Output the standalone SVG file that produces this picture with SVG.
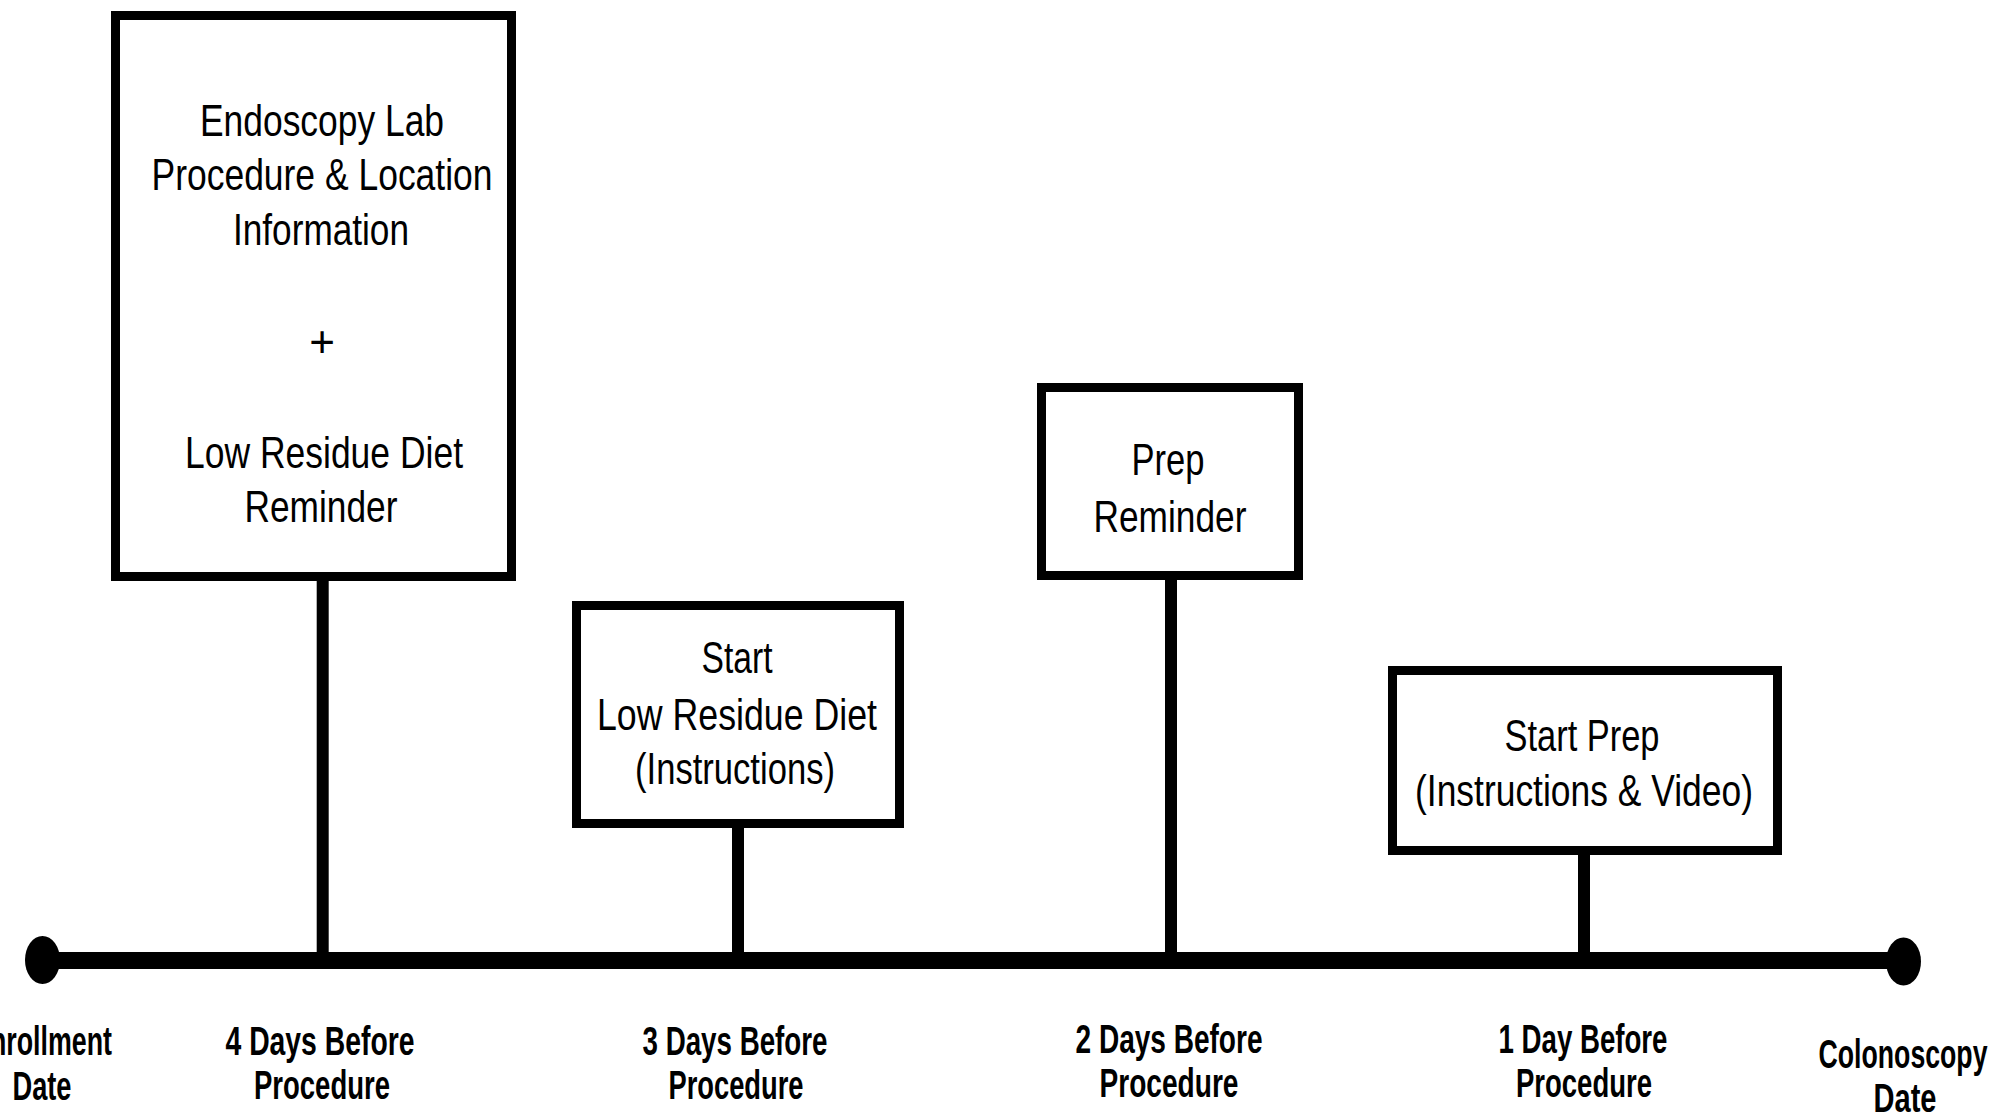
<svg xmlns="http://www.w3.org/2000/svg" width="1992" height="1116" viewBox="0 0 1992 1116">
<style>
.box{fill:#fff;stroke:#000;stroke-width:9}
.bt{font-family:"Liberation Sans",Arial,sans-serif;font-size:44px;fill:#000;text-anchor:middle}
.lb{font-family:"Liberation Sans",Arial,sans-serif;font-size:40px;font-weight:bold;fill:#000;text-anchor:middle}
.stem{stroke:#000;stroke-width:12;fill:none}
</style>
<rect width="1992" height="1116" fill="#fff"/>
<g id="connectors">
<line class="stem" x1="322.7" y1="578" x2="322.7" y2="960"/>
<line class="stem" x1="738" y1="826" x2="738" y2="960"/>
<line class="stem" x1="1171" y1="578" x2="1171" y2="960"/>
<line class="stem" x1="1584" y1="853" x2="1584" y2="960"/>
</g>
<g id="timeline">
<line x1="42" y1="960.5" x2="1903" y2="960.5" stroke="#000" stroke-width="17"/>
<ellipse cx="42.5" cy="960" rx="17.5" ry="24" fill="#000"/>
<ellipse cx="1903.5" cy="961.5" rx="17.5" ry="24" fill="#000"/>
</g>
<g id="node-endoscopy">
<rect class="box" x="115.5" y="15.5" width="396" height="561"/>
<text class="bt" x="322" y="136" textLength="244" lengthAdjust="spacingAndGlyphs">Endoscopy Lab</text>
<text class="bt" x="322" y="190" textLength="341" lengthAdjust="spacingAndGlyphs">Procedure &amp; Location</text>
<text class="bt" x="321" y="245" textLength="176" lengthAdjust="spacingAndGlyphs">Information</text>
<text class="bt" x="322" y="357">+</text>
<text class="bt" x="324" y="468" textLength="278" lengthAdjust="spacingAndGlyphs">Low Residue Diet</text>
<text class="bt" x="321" y="522" textLength="153" lengthAdjust="spacingAndGlyphs">Reminder</text>
</g>
<g id="node-start-diet">
<rect class="box" x="576.5" y="605.5" width="323" height="218"/>
<text class="bt" x="737" y="673" textLength="71" lengthAdjust="spacingAndGlyphs">Start</text>
<text class="bt" x="737" y="730" textLength="280" lengthAdjust="spacingAndGlyphs">Low Residue Diet</text>
<text class="bt" x="735" y="784" textLength="200" lengthAdjust="spacingAndGlyphs">(Instructions)</text>
</g>
<g id="node-prep-reminder">
<rect class="box" x="1041.5" y="387.5" width="257" height="188"/>
<text class="bt" x="1168" y="475" textLength="73" lengthAdjust="spacingAndGlyphs">Prep</text>
<text class="bt" x="1170" y="532" textLength="153" lengthAdjust="spacingAndGlyphs">Reminder</text>
</g>
<g id="node-start-prep">
<rect class="box" x="1392.5" y="670.5" width="385" height="180"/>
<text class="bt" x="1582" y="751" textLength="155" lengthAdjust="spacingAndGlyphs">Start Prep</text>
<text class="bt" x="1584" y="806" textLength="338" lengthAdjust="spacingAndGlyphs">(Instructions &amp; Video)</text>
</g>
<g id="labels">
<text class="lb" x="42" y="1055" textLength="140" lengthAdjust="spacingAndGlyphs">Enrollment</text>
<text class="lb" x="42" y="1100" textLength="59" lengthAdjust="spacingAndGlyphs">Date</text>
<text class="lb" x="320" y="1055" textLength="189" lengthAdjust="spacingAndGlyphs">4 Days Before</text>
<text class="lb" x="322" y="1099" textLength="136" lengthAdjust="spacingAndGlyphs">Procedure</text>
<text class="lb" x="735" y="1055" textLength="185" lengthAdjust="spacingAndGlyphs">3 Days Before</text>
<text class="lb" x="736" y="1099" textLength="135" lengthAdjust="spacingAndGlyphs">Procedure</text>
<text class="lb" x="1169" y="1053" textLength="187" lengthAdjust="spacingAndGlyphs">2 Days Before</text>
<text class="lb" x="1169" y="1097" textLength="139" lengthAdjust="spacingAndGlyphs">Procedure</text>
<text class="lb" x="1583" y="1053" textLength="169" lengthAdjust="spacingAndGlyphs">1 Day Before</text>
<text class="lb" x="1584" y="1097" textLength="136" lengthAdjust="spacingAndGlyphs">Procedure</text>
<text class="lb" x="1903" y="1068" textLength="169" lengthAdjust="spacingAndGlyphs">Colonoscopy</text>
<text class="lb" x="1905" y="1112" textLength="63" lengthAdjust="spacingAndGlyphs">Date</text>
</g>
</svg>
